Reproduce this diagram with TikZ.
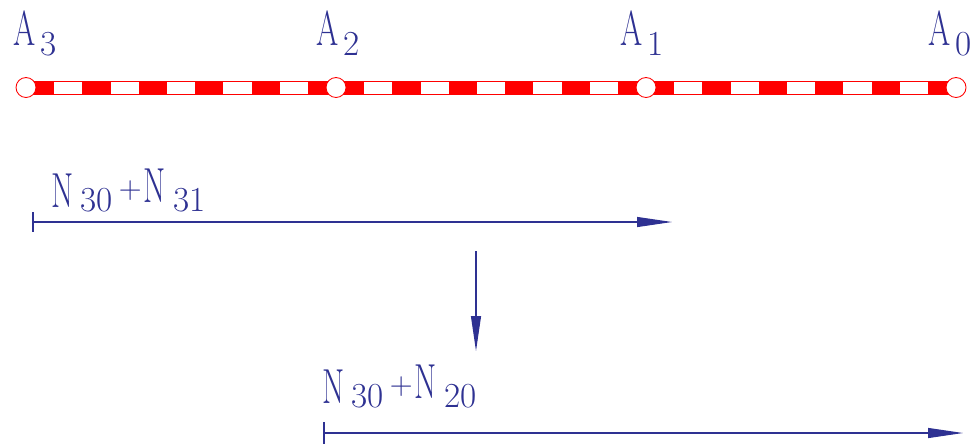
\documentclass[tikz,border=0pt]{standalone}
\usepackage{graphicx}
\usetikzlibrary{arrows.meta,calc}

\definecolor{cadblue}{RGB}{46,49,146}
\newcommand{\bigltr}[1]{\scalebox{0.65}[1]{\fontsize{28pt}{30pt}\selectfont #1}}
\newcommand{\asub}[1]{\bigltr{A}\hspace{3pt}\raisebox{-5.7pt}{\fontsize{20pt}{22pt}\selectfont #1}}
\newcommand{\nsum}[2]{\bigltr{N}\hspace{4pt}\raisebox{-2.6pt}{\fontsize{20pt}{22pt}\selectfont #1}%
  \hspace{3.5pt}\raisebox{4.9pt}{\fontsize{18pt}{20pt}\selectfont +}\hspace{1pt}%
  \raisebox{2.3pt}{\bigltr{N}}\hspace{4.5pt}\raisebox{-2.6pt}{\fontsize{20pt}{22pt}\selectfont #2}}

\begin{document}
\begin{tikzpicture}[
  x=0.02cm, y=-0.02cm,
  joint/.style={circle, draw=red, fill=white, line width=0.5pt, inner sep=0pt, minimum size=0.4cm},
  barbase/.style={red, line width=0.28cm},
  barfill/.style={white, line width=0.24cm},
  bardash/.style={red, line width=0.28cm, dash pattern=on 0.564cm off 0.564cm},
  lbl/.style={text=cadblue, inner sep=0pt, anchor=base west},
  force/.style={draw=cadblue, line width=0.6pt, -{Triangle[length=0.7cm, width=0.2cm]}},
  tick/.style={draw=cadblue, line width=0.6pt}
]
\useasboundingbox (0,0) rectangle (973,444);

% joints of the member
\coordinate (p3) at (26,87.5);
\coordinate (p2) at (336,87.5);
\coordinate (p1) at (646,87.5);
\coordinate (p0) at (956,87.5);
\foreach \a/\b in {p3/p2, p2/p1, p1/p0} {
  \draw[barbase] (\a) -- (\b);
  \draw[barfill] (\a) -- (\b);
  \draw[bardash] (\a) -- (\b);
}
\node[joint] (A3) at (p3) {};
\node[joint] (A2) at (p2) {};
\node[joint] (A1) at (p1) {};
\node[joint] (A0) at (p0) {};

\node[lbl] (lA3) at ($(A3)+(-13,-42.5)$) {\asub{3}};
\node[lbl] (lA2) at ($(A2)+(-20,-42.5)$) {\asub{2}};
\node[lbl] (lA1) at ($(A1)+(-26,-42.5)$) {\asub{1}};
\node[lbl] (lA0) at ($(A0)+(-28,-42.5)$) {\asub{0}};

% force lines
\coordinate (s1) at (33,222);
\coordinate (e1) at (672,222);
\draw[force] (s1) -- (e1);
\draw[tick] ($(s1)+(0,-10)$) -- ($(s1)+(0,10)$);
\node[lbl] (n1) at (51,207) {\nsum{30}{31}};

\coordinate (d1) at (476,251);
\coordinate (d2) at (476,351);
\draw[force] (d1) -- (d2);

\coordinate (s2) at (324,433);
\coordinate (e2) at (963,433);
\draw[force] (s2) -- (e2);
\draw[tick] ($(s2)+(0,-11)$) -- ($(s2)+(0,11)$);
\node[lbl] (n2) at (322,403) {\nsum{30}{20}};
\end{tikzpicture}
\end{document}
